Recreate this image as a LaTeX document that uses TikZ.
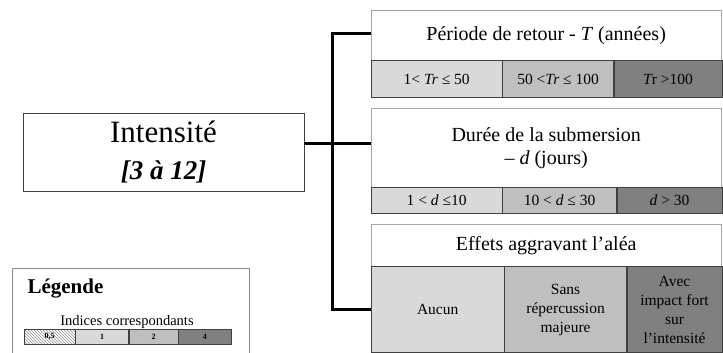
\documentclass[tikz,border=0pt]{standalone}
\usepackage{fontspec}
\setmainfont{Liberation Serif}
\usetikzlibrary{positioning,patterns}
\definecolor{lo}{HTML}{D9D9D9}
\definecolor{mid}{HTML}{BFBFBF}
\definecolor{hi}{HTML}{808080}
\definecolor{rim}{HTML}{A6A6A6}

\begin{document}
\begin{tikzpicture}[x=1pt, y=-1pt, node distance=0pt,
    cell/.style={draw=black!75, inner sep=0pt, align=center, font=\fontsize{15.5}{19}\selectfont},
    head/.style={draw=rim, inner sep=0pt, anchor=north west, align=center, minimum width=350pt, font=\fontsize{20}{23}\selectfont},
    key/.style={draw=black!75, inner sep=0pt, minimum height=15pt, font=\fontsize{8}{9}\selectfont\bfseries},
    conn/.style={line width=3pt}]
  \useasboundingbox (0,0) rectangle (723,353);

  % bloc principal
  \node (int) [draw=black!75, minimum width=281pt, minimum height=78pt, align=center, font=\fontsize{31}{37}\selectfont] at (163.5,152)
    {Intensité\\{\fontsize{27}{37}\selectfont\bfseries\itshape [3 à 12]}};

  % période de retour
  \node (h1) [head, minimum height=50pt] at (371,10) {Période de retour - \textit{T} (années)};
  \node (c11) [cell, fill=lo, minimum width=131pt, minimum height=37pt, below=0pt of h1.south west, anchor=north west] {1< \textit{Tr} ≤ 50};
  \node (c12) [cell, fill=mid, minimum width=111pt, minimum height=37pt, right=0pt of c11] {50 <\textit{Tr} ≤ 100};
  \node (c13) [cell, fill=hi, minimum width=108pt, minimum height=37pt, right=0pt of c12] {{\itshape T}r >100};

  % durée de submersion
  \node (h2) [head, minimum height=79pt] at (371,108) {Durée de la submersion\\– \textit{d} (jours)};
  \node (c21) [cell, fill=lo, minimum width=131pt, minimum height=26pt, below=0pt of h2.south west, anchor=north west] {1 < \textit{d} ≤10};
  \node (c22) [cell, fill=mid, minimum width=114pt, minimum height=26pt, right=0pt of c21] {10 < \textit{d} ≤ 30};
  \node (c23) [cell, fill=hi, minimum width=105pt, minimum height=26pt, right=0pt of c22] {\textit{d} > 30};

  % effets aggravants
  \node (h3) [head, minimum height=42pt] at (371,224) {Effets aggravant l’aléa};
  \node (c31) [cell, fill=lo, minimum width=133pt, minimum height=86pt, below=0pt of h3.south west, anchor=north west] {Aucun};
  \node (c32) [cell, fill=mid, minimum width=122pt, minimum height=86pt, right=0pt of c31] {Sans\\répercussion\\majeure};
  \node (c33) [cell, fill=hi, minimum width=95pt, minimum height=86pt, right=0pt of c32] {Avec\\impact fort\\sur\\l’intensité};

  % liaisons
  \coordinate (jn) at (332,143);
  \coordinate (tp) at (332,34);
  \coordinate (bt) at (332,309);
  \draw[conn] (int.east |- jn) -- (h2.west |- jn);
  \draw[conn] (h1.west |- tp) -- (tp) -- (bt) -- (h3.west |- bt);

  % légende
  \draw[draw=black!45] (12,353) |- (249,268) -- (249,353);
  \node (legt) [anchor=base west, font=\fontsize{21}{24}\selectfont\bfseries] at (24,293) {Légende};
  \node (legs) [anchor=base, font=\fontsize{14.5}{17}\selectfont] at (127,325) {Indices correspondants};
  \node (l0) [key, pattern=north west lines, pattern color=black!45, minimum width=51pt, anchor=north west] at (24,329) {0,5};
  \node (l1) [key, fill=lo, minimum width=53pt, right=0pt of l0] {1};
  \node (l2) [key, fill=mid, minimum width=49pt, right=0pt of l1] {2};
  \node (l3) [key, fill=hi, minimum width=53pt, right=0pt of l2] {4};
\end{tikzpicture}
\end{document}
